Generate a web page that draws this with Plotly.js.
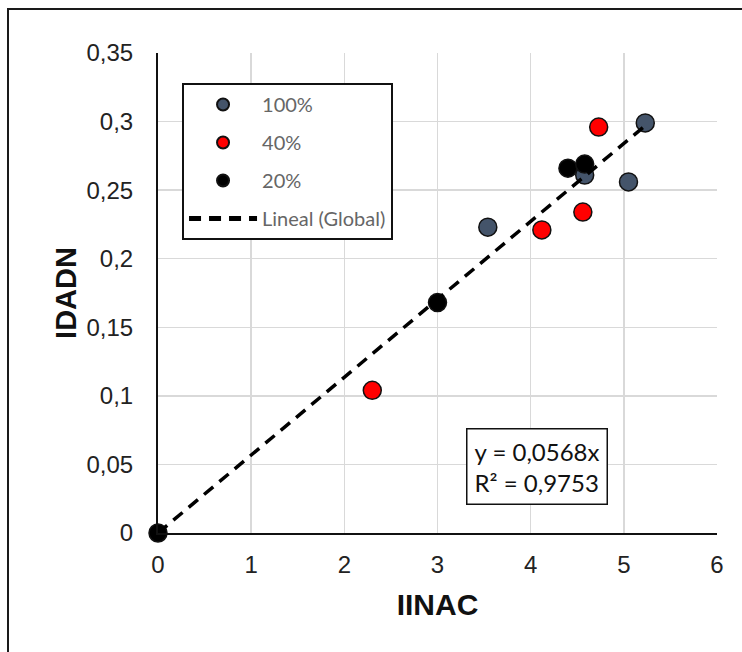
<!DOCTYPE html>
<html>
<head>
<meta charset="utf-8">
<script src="https://cdn.plot.ly/plotly-3.0.1.min.js"></script>
<style>
html,body{margin:0;padding:0;background:#fff;overflow:hidden;}
#chart{width:742px;height:652px;position:relative;}
#frame{position:absolute;left:7px;top:8px;width:800px;height:700px;border:2px solid #1a1a1a;pointer-events:none;}
</style>
</head>
<body>
<div id="chart"></div>
<div id="frame"></div>
<script>
// Data
const x100 = [5.23, 4.58, 5.05, 3.54];
const y100 = [0.299, 0.261, 0.256, 0.223];
const x40 = [4.73, 4.56, 4.12, 2.30];
const y40 = [0.296, 0.234, 0.221, 0.104];
const x20 = [4.40, 4.58, 3.00, 0.00];
const y20 = [0.266, 0.269, 0.168, 0.000];
const slope = 0.0568;
const r2 = 0.9753;
const trendX = [0, 5.23];
const trendY = trendX.map(v => slope * v);
const seriesNames = ['100%', '40%', '20%', 'Lineal (Global)'];

const mk = (c) => ({size: 18, color: c, line: {color: '#111', width: 1.5}});
const traces = [
  {x: x100, y: y100, mode: 'markers', type: 'scatter', name: seriesNames[0], marker: mk('#44546A'), cliponaxis: false, legendgroup: 'a'},
  {x: x40, y: y40, mode: 'markers', type: 'scatter', name: seriesNames[1], marker: mk('#FF0000'), cliponaxis: false, legendgroup: 'b'},
  {x: x20, y: y20, mode: 'markers', type: 'scatter', name: seriesNames[2], marker: mk('#000000'), cliponaxis: false, legendgroup: 'c'},
  {x: trendX, y: trendY, mode: 'lines', type: 'scatter', name: seriesNames[3], line: {color: '#000', width: 3.5, dash: '12px,8px'}, cliponaxis: false, legendgroup: 'd'}
];

const eqText = 'y = ' + String(slope).replace('.', ',') + 'x<br>R² = ' + String(r2).replace('.', ',');

const layout = {
  width: 742, height: 652,
  margin: {l: 158, r: 25, t: 53, b: 119},
  separators: ',.',
  paper_bgcolor: '#fff', plot_bgcolor: '#fff',
  font: {family: 'Arial, Liberation Sans, sans-serif', color: '#222'},
  xaxis: {
    range: [0, 6], dtick: 1, tick0: 0,
    showgrid: true, gridcolor: '#d9d9d9', gridwidth: 1.5,
    zeroline: false, showline: true, linecolor: '#111', linewidth: 2,
    ticks: '', tickfont: {size: 24, color: '#222'}, ticklabelstandoff: 9,
    title: {text: '<b>IINAC</b>', font: {size: 30, color: '#111'}, standoff: 17}
  },
  yaxis: {
    range: [0, 0.35], dtick: 0.05, tick0: 0,
    showgrid: true, gridcolor: '#d9d9d9', gridwidth: 1.5,
    zeroline: false, showline: true, linecolor: '#111', linewidth: 2,
    ticks: '', tickfont: {size: 24, color: '#222'}, ticklabelstandoff: 18,
    title: {text: '<b>IDADN</b>', font: {size: 29, color: '#111'}, standoff: 1}
  },
  showlegend: true,
  legend: {
    x: 0.043, y: 0.9375, xanchor: 'left', yanchor: 'top',
    bgcolor: '#fff', bordercolor: '#111', borderwidth: 2,
    font: {family: 'Lato, Open Sans, sans-serif', size: 20, color: '#666'},
    tracegroupgap: 9, itemwidth: 68, traceorder: 'grouped', itemsizing: 'constant'
  },
  annotations: [{
    xref: 'x', yref: 'y', x: 4.07, y: 0.0485, xanchor: 'center', yanchor: 'middle',
    text: eqText, showarrow: false, align: 'left',
    font: {family: 'Lato, Open Sans, sans-serif', size: 24, color: '#111'},
    bordercolor: '#111', borderwidth: 1.5, borderpad: 7, bgcolor: '#fff'
  }]
};

Plotly.newPlot('chart', traces, layout, {displayModeBar: false, staticPlot: true});
</script>
</body>
</html>
